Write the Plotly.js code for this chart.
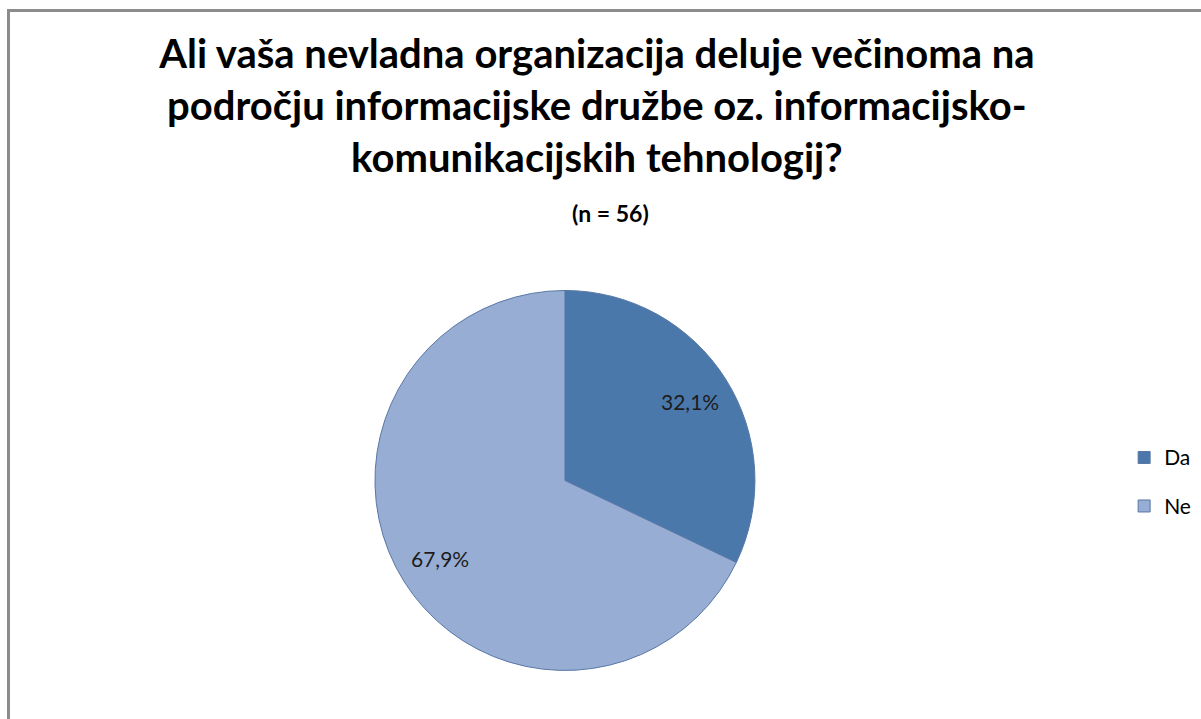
<!DOCTYPE html>
<html>
<head>
<meta charset="utf-8">
<script src="https://cdn.plot.ly/plotly-3.0.1.min.js"></script>
<style>
  html, body { margin: 0; padding: 0; background: #ffffff; overflow: hidden; }
  #frame { position: absolute; left: 7px; top: 9px; width: 1400px; height: 900px;
           border-left: 3px solid #8c8c8c; border-top: 3px solid #8c8c8c; }
  #chart { position: absolute; left: 0; top: 0; width: 1201px; height: 719px; }
</style>
</head>
<body>
<div id="frame"></div>
<div id="chart"></div>
<script>
const titleLines = [
  "Ali vaša nevladna organizacija deluje večinoma na",
  "področju informacijske družbe oz. informacijsko-",
  "komunikacijskih tehnologij?"
];
const subtitleText = "(n = 56)";
const categories = ["Da", "Ne"];
const shares = [32.1, 67.9];
const sliceColors = ["#4A78AB", "#97ADD3"];

const FONT = "Lato, 'Open Sans', 'Liberation Sans', sans-serif";
const W = 1201, H = 719;

// pie geometry (paper domain)
const domX = [0.3122, 0.6286];
const domY = [0.0675, 0.596];
const cxPx = (domX[0] + domX[1]) / 2 * W;
const cyPx = (1 - (domY[0] + domY[1]) / 2) * H;
const rPx = Math.min((domX[1] - domX[0]) * W, (domY[1] - domY[0]) * H) / 2;
const labelRadiusFrac = 0.775;

// percentage labels placed on each slice's bisector (from the data)
const total = shares.reduce((a, b) => a + b, 0);
let cum = 0;
const labelAnnotations = shares.map((v) => {
  const mid = (cum + v / 2) / total * 2 * Math.PI;
  cum += v;
  const px = cxPx + rPx * labelRadiusFrac * Math.sin(mid);
  const py = cyPx - rPx * labelRadiusFrac * Math.cos(mid);
  return {
    xref: "paper", yref: "paper",
    x: px / W, y: 1 - py / H,
    xanchor: "center", yanchor: "middle",
    showarrow: false,
    text: (v / total * 100).toFixed(1).replace(".", ",") + "%",
    font: { family: FONT, size: 21, color: "#1c1c1c" }
  };
});

const subtitleAnnotation = {
  xref: "paper", yref: "paper",
  x: 0.508, y: 1 - 213 / H,
  xanchor: "center", yanchor: "middle",
  showarrow: false,
  text: "<b>" + subtitleText + "</b>",
  font: { family: FONT, size: 23, color: "#000000" }
};

const legendLabels = categories.map(
  (c) => '<span style="font-size:21px;baseline-shift:6px">' + c + "</span>"
);

const data = [{
  type: "pie",
  labels: legendLabels,
  values: shares,
  sort: false,
  direction: "clockwise",
  rotation: 0,
  marker: { colors: sliceColors, line: { color: "#5878a6", width: 1 } },
  textinfo: "none",
  hoverinfo: "percent",
  domain: { x: domX, y: domY }
}];

const layout = {
  width: W,
  height: H,
  margin: { l: 0, r: 0, t: 0, b: 0 },
  paper_bgcolor: "rgba(0,0,0,0)",
  plot_bgcolor: "rgba(0,0,0,0)",
  font: { family: FONT, color: "#000000" },
  title: {
    text: "<b>" + titleLines.join("<br>") + "</b>",
    font: { family: FONT, size: 40, color: "#000000" },
    x: 0.497, xanchor: "center",
    y: 0.905, yanchor: "top"
  },
  annotations: labelAnnotations.concat([subtitleAnnotation]),
  showlegend: true,
  legend: {
    x: 0.936, xanchor: "left",
    y: 0.330, yanchor: "middle",
    font: { family: FONT, size: 35, color: "#000000" },
    bgcolor: "rgba(0,0,0,0)"
  }
};

Plotly.newPlot("chart", data, layout, { displayModeBar: false, staticPlot: true });
</script>
</body>
</html>
